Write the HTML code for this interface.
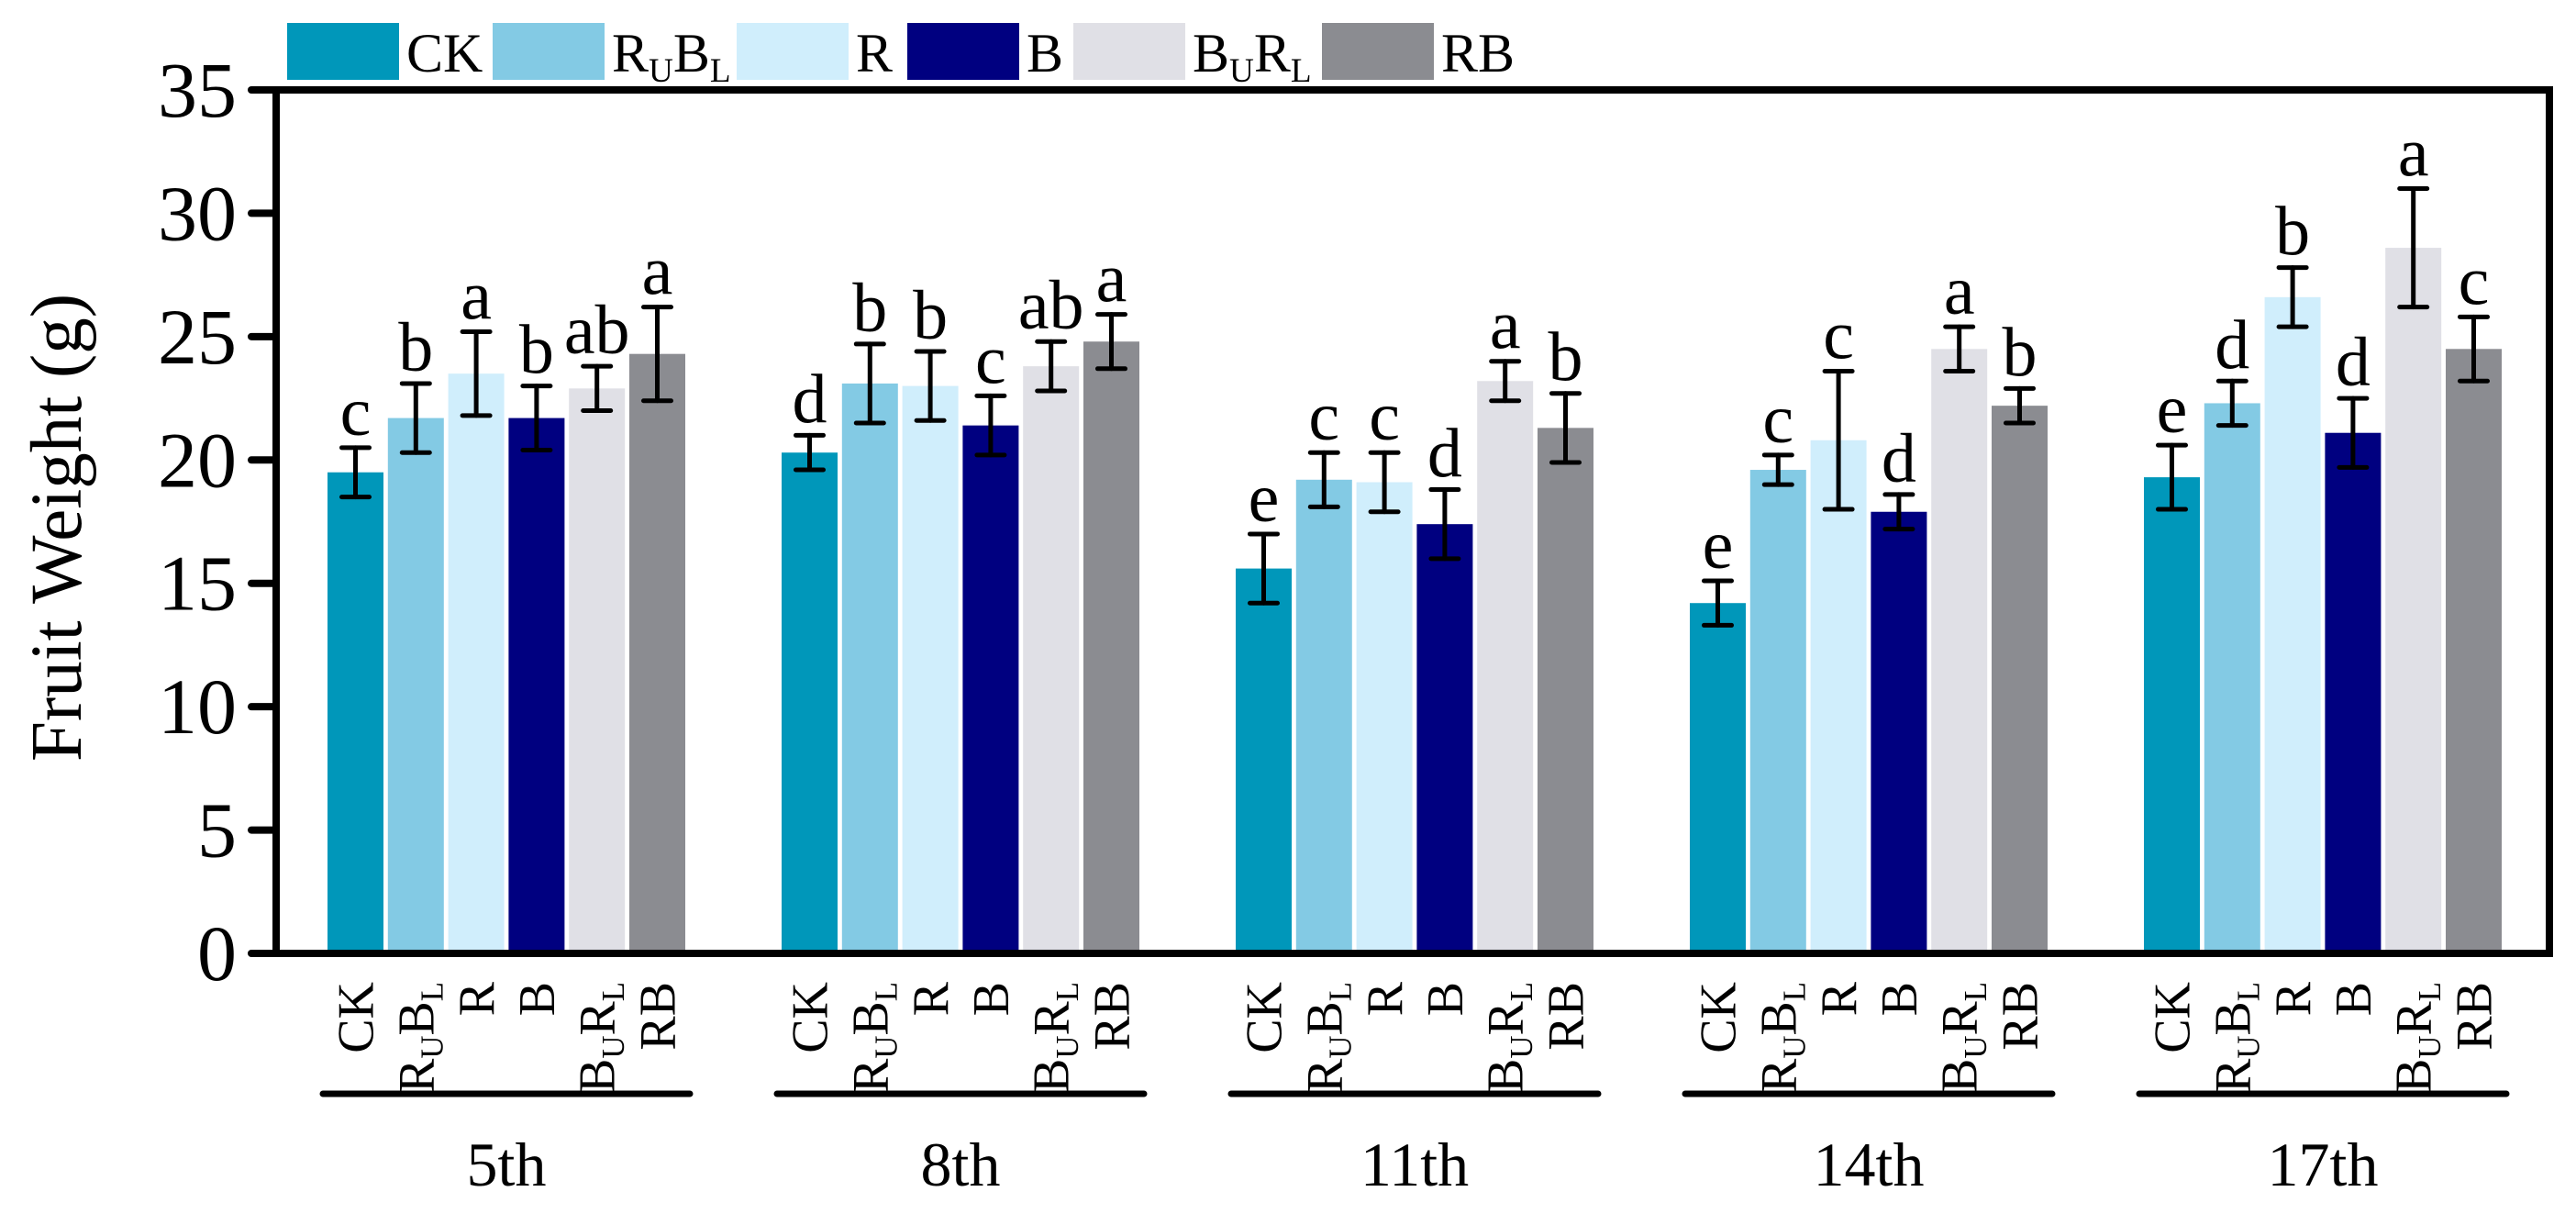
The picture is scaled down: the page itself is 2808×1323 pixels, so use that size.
<!DOCTYPE html>
<html><head><meta charset="utf-8"><style>
html,body{margin:0;padding:0;background:#fff;}
svg{display:block;font-family:"Liberation Serif",serif;}
</style></head><body>
<svg id="chart" width="2808" height="1323" viewBox="0 0 2808 1323" xmlns="http://www.w3.org/2000/svg"></svg>
<script>
const groups = ["5th","8th","11th","14th","17th"];
const treatments = ["CK","RUBL","R","B","BURL","RB"];
const colors = ["#0097BA","#83CAE4","#D0EEFC","#000080","#E0E0E6","#8B8C91"];
const valCK   = [19.5, 20.3, 15.6, 14.2, 19.3];
const valRUBL = [21.7, 23.1, 19.2, 19.6, 22.3];
const valR    = [23.5, 23.0, 19.1, 20.8, 26.6];
const valB    = [21.7, 21.4, 17.4, 17.9, 21.1];
const valBURL = [22.9, 23.8, 23.2, 24.5, 28.6];
const valRB   = [24.3, 24.8, 21.3, 22.2, 24.5];
const errCK   = [1.0, 0.7, 1.4, 0.9, 1.3];
const errRUBL = [1.4, 1.6, 1.1, 0.6, 0.9];
const errR    = [1.7, 1.4, 1.2, 2.8, 1.2];
const errB    = [1.3, 1.2, 1.4, 0.7, 1.4];
const errBURL = [0.9, 1.0, 0.8, 0.9, 2.4];
const errRB   = [1.9, 1.1, 1.4, 0.7, 1.3];
const letCK   = ["c","d","e","e","e"];
const letRUBL = ["b","b","c","c","d"];
const letR    = ["a","b","c","c","b"];
const letB    = ["b","c","d","d","d"];
const letBURL = ["ab","ab","a","a","a"];
const letRB   = ["a","a","b","b","c"];
const yTicks = [0,5,10,15,20,25,30,35];

const values=[valCK,valRUBL,valR,valB,valBURL,valRB];
const errs=[errCK,errRUBL,errR,errB,errBURL,errRB];
const lets=[letCK,letRUBL,letR,letB,letBURL,letRB];

const svg=document.getElementById('chart');
const NS='http://www.w3.org/2000/svg';
function mk(tag,attrs,parent){const e=document.createElementNS(NS,tag);for(const k in attrs)e.setAttribute(k,attrs[k]);(parent||svg).appendChild(e);return e;}
const L=301,R=2779,T=98,B=1039;
const y=v=>B-(v/35)*(B-T);
const groupStart=357, groupPitch=495, barPitch=65.8, barW=61;
const xBar=(g,t)=>groupStart+g*groupPitch+t*barPitch;

function labelParts(name){
  if(name==="RUBL")return [["R",0],["U",1],["B",0],["L",1]];
  if(name==="BURL")return [["B",0],["U",1],["R",0],["L",1]];
  return [[name,0]];
}
function fillText(t,name,size){
  let prevSub=false;
  labelParts(name).forEach(p=>{const s=mk('tspan',{},t);s.textContent=p[0];
    const sub=!!p[1];
    if(sub)s.setAttribute('font-size',size*0.62);
    s.setAttribute('dy', sub&&!prevSub? size*0.18 : (!sub&&prevSub? -size*0.18:0));
    prevSub=sub;});
}

for(let t=0;t<6;t++){
  for(let g=0;g<5;g++){
    const v=values[t][g], e=errs[t][g], x=xBar(g,t);
    const r=mk('rect',{x:x,y:y(v),width:barW,height:B-y(v),fill:colors[t]});
    
    
    const cx=x+barW/2;
    const eg=mk('g',{stroke:'#000','stroke-width':5,'stroke-linecap':'round'});
    
    
    mk('line',{x1:cx,x2:cx,y1:y(v+e),y2:y(v-e)},eg);
    mk('line',{x1:cx-15,x2:cx+15,y1:y(v+e),y2:y(v+e)},eg);
    mk('line',{x1:cx-15,x2:cx+15,y1:y(v-e),y2:y(v-e)},eg);
    const lt=mk('text',{x:cx,y:y(v+e)-14,'font-size':76,'text-anchor':'middle'});
    
    
    lt.textContent=lets[t][g];
  }
}

const fr=mk('rect',{x:L,y:T,width:R-L,height:B-T,fill:'none',stroke:'#000','stroke-width':8});



yTicks.forEach(v=>{
  const tl=mk('line',{x1:274,x2:L,y1:y(v),y2:y(v),stroke:'#000','stroke-width':8,'stroke-linecap':'round'});
  
  
  const tx=mk('text',{x:258,y:y(v)+29,'font-size':86,'text-anchor':'end'});
  
  
  tx.textContent=v;
});
const yt=mk('text',{x:0,y:0,'font-size':79,'text-anchor':'middle',transform:'translate(88,575) rotate(-90)'});


yt.textContent='Fruit Weight (g)';

for(let g=0;g<5;g++){
  for(let t=0;t<6;t++){
    const cx=xBar(g,t)+barW/2;
    const tx=mk('text',{x:0,y:0,'font-size':56,'text-anchor':'end',transform:`translate(${cx+19},1070) rotate(-90)`});
    
    
    fillText(tx,treatments[t],56);
  }
  const gc=xBar(g,0)+(xBar(g,5)+barW-xBar(g,0))/2;
  const ul=mk('line',{x1:gc-200,x2:gc+200,y1:1192,y2:1192,stroke:'#000','stroke-width':7,'stroke-linecap':'round'});
  
  
  const gl=mk('text',{x:gc,y:1292,'font-size':68,'text-anchor':'middle'});
  
  
  gl.textContent=groups[g];
}

const legX=[313,537,803,989,1170,1441];
for(let t=0;t<6;t++){
  const lg=mk('g',{});
  
  
  mk('rect',{x:legX[t],y:25,width:122,height:62,fill:colors[t]},lg);
  const tx=mk('text',{x:legX[t]+130,y:78,'font-size':60},lg);
  fillText(tx,treatments[t],60);
}
</script>
</body></html>
